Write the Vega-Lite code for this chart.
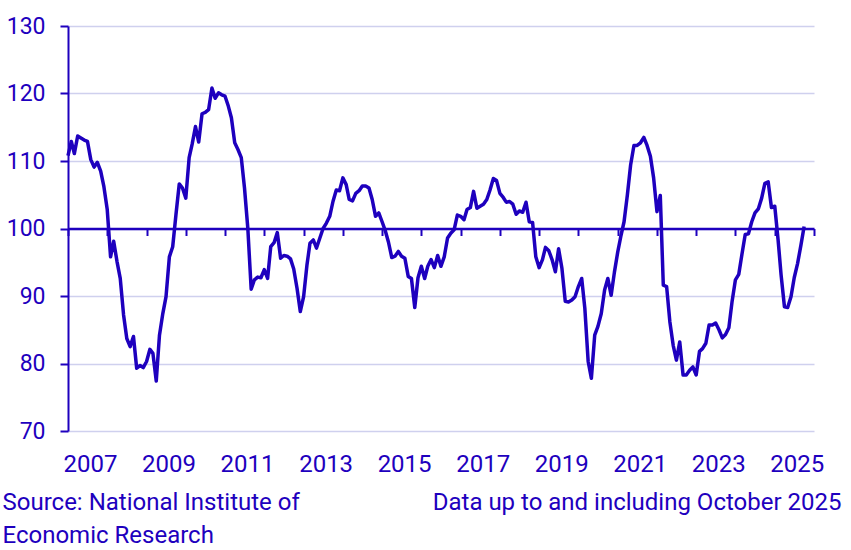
{
  "$schema": "https://vega.github.io/schema/vega-lite/v6.json",
  "width": 746,
  "height": 405,
  "autosize": {"type": "none"},
  "padding": {"left": 68, "top": 26, "right": 37, "bottom": 119},
  "background": "white",
  "config": {"view": {"stroke": null}, "font": "Roboto"},
  "data": {"values": [
    {"month":"2007-01","index":110.8},{"month":"2007-02","index":112.9},{"month":"2007-03","index":111.1},{"month":"2007-04","index":113.7},{"month":"2007-05","index":113.4},{"month":"2007-06","index":113.1},{"month":"2007-07","index":112.9},{"month":"2007-08","index":110.2},{"month":"2007-09","index":109.1},{"month":"2007-10","index":109.8},{"month":"2007-11","index":108.5},{"month":"2007-12","index":106.2},
    {"month":"2008-01","index":102.8},{"month":"2008-02","index":95.8},{"month":"2008-03","index":98.1},{"month":"2008-04","index":95.1},{"month":"2008-05","index":92.6},{"month":"2008-06","index":87.2},{"month":"2008-07","index":83.7},{"month":"2008-08","index":82.5},{"month":"2008-09","index":84.0},{"month":"2008-10","index":79.3},{"month":"2008-11","index":79.7},{"month":"2008-12","index":79.4},
    {"month":"2009-01","index":80.3},{"month":"2009-02","index":82.1},{"month":"2009-03","index":81.5},{"month":"2009-04","index":77.4},{"month":"2009-05","index":84.2},{"month":"2009-06","index":87.4},{"month":"2009-07","index":89.9},{"month":"2009-08","index":95.8},{"month":"2009-09","index":97.3},{"month":"2009-10","index":102.0},{"month":"2009-11","index":106.6},{"month":"2009-12","index":106.0},
    {"month":"2010-01","index":104.5},{"month":"2010-02","index":110.5},{"month":"2010-03","index":112.5},{"month":"2010-04","index":115.1},{"month":"2010-05","index":112.8},{"month":"2010-06","index":117.0},{"month":"2010-07","index":117.2},{"month":"2010-08","index":117.6},{"month":"2010-09","index":120.8},{"month":"2010-10","index":119.3},{"month":"2010-11","index":120.1},{"month":"2010-12","index":119.8},
    {"month":"2011-01","index":119.6},{"month":"2011-02","index":118.1},{"month":"2011-03","index":116.4},{"month":"2011-04","index":112.7},{"month":"2011-05","index":111.7},{"month":"2011-06","index":110.5},{"month":"2011-07","index":106.0},{"month":"2011-08","index":100.0},{"month":"2011-09","index":91.0},{"month":"2011-10","index":92.4},{"month":"2011-11","index":92.8},{"month":"2011-12","index":92.7},
    {"month":"2012-01","index":93.9},{"month":"2012-02","index":92.6},{"month":"2012-03","index":97.3},{"month":"2012-04","index":97.9},{"month":"2012-05","index":99.4},{"month":"2012-06","index":95.6},{"month":"2012-07","index":96.0},{"month":"2012-08","index":95.9},{"month":"2012-09","index":95.5},{"month":"2012-10","index":94.0},{"month":"2012-11","index":91.1},{"month":"2012-12","index":87.7},
    {"month":"2013-01","index":89.9},{"month":"2013-02","index":94.6},{"month":"2013-03","index":97.8},{"month":"2013-04","index":98.3},{"month":"2013-05","index":97.1},{"month":"2013-06","index":98.6},{"month":"2013-07","index":100.0},{"month":"2013-08","index":100.8},{"month":"2013-09","index":101.8},{"month":"2013-10","index":104.0},{"month":"2013-11","index":105.7},{"month":"2013-12","index":105.6},
    {"month":"2014-01","index":107.5},{"month":"2014-02","index":106.5},{"month":"2014-03","index":104.3},{"month":"2014-04","index":104.1},{"month":"2014-05","index":105.2},{"month":"2014-06","index":105.6},{"month":"2014-07","index":106.3},{"month":"2014-08","index":106.3},{"month":"2014-09","index":106.0},{"month":"2014-10","index":104.3},{"month":"2014-11","index":101.8},{"month":"2014-12","index":102.3},
    {"month":"2015-01","index":101.0},{"month":"2015-02","index":99.6},{"month":"2015-03","index":98.0},{"month":"2015-04","index":95.7},{"month":"2015-05","index":95.9},{"month":"2015-06","index":96.6},{"month":"2015-07","index":95.9},{"month":"2015-08","index":95.6},{"month":"2015-09","index":92.9},{"month":"2015-10","index":92.6},{"month":"2015-11","index":88.3},{"month":"2015-12","index":92.7},
    {"month":"2016-01","index":94.4},{"month":"2016-02","index":92.6},{"month":"2016-03","index":94.4},{"month":"2016-04","index":95.4},{"month":"2016-05","index":94.2},{"month":"2016-06","index":96.0},{"month":"2016-07","index":94.4},{"month":"2016-08","index":95.8},{"month":"2016-09","index":98.6},{"month":"2016-10","index":99.3},{"month":"2016-11","index":99.8},{"month":"2016-12","index":102.0},
    {"month":"2017-01","index":101.8},{"month":"2017-02","index":101.3},{"month":"2017-03","index":102.8},{"month":"2017-04","index":103.1},{"month":"2017-05","index":105.5},{"month":"2017-06","index":103.0},{"month":"2017-07","index":103.3},{"month":"2017-08","index":103.6},{"month":"2017-09","index":104.3},{"month":"2017-10","index":105.7},{"month":"2017-11","index":107.4},{"month":"2017-12","index":107.1},
    {"month":"2018-01","index":105.2},{"month":"2018-02","index":104.6},{"month":"2018-03","index":103.9},{"month":"2018-04","index":104.0},{"month":"2018-05","index":103.6},{"month":"2018-06","index":102.1},{"month":"2018-07","index":102.6},{"month":"2018-08","index":102.4},{"month":"2018-09","index":103.9},{"month":"2018-10","index":101.0},{"month":"2018-11","index":100.9},{"month":"2018-12","index":95.8},
    {"month":"2019-01","index":94.2},{"month":"2019-02","index":95.4},{"month":"2019-03","index":97.2},{"month":"2019-04","index":96.7},{"month":"2019-05","index":95.4},{"month":"2019-06","index":93.6},{"month":"2019-07","index":97.0},{"month":"2019-08","index":94.1},{"month":"2019-09","index":89.2},{"month":"2019-10","index":89.1},{"month":"2019-11","index":89.4},{"month":"2019-12","index":89.9},
    {"month":"2020-01","index":91.4},{"month":"2020-02","index":92.6},{"month":"2020-03","index":88.2},{"month":"2020-04","index":80.3},{"month":"2020-05","index":77.8},{"month":"2020-06","index":84.2},{"month":"2020-07","index":85.5},{"month":"2020-08","index":87.4},{"month":"2020-09","index":90.9},{"month":"2020-10","index":92.6},{"month":"2020-11","index":90.1},{"month":"2020-12","index":93.5},
    {"month":"2021-01","index":96.5},{"month":"2021-02","index":99.0},{"month":"2021-03","index":101.0},{"month":"2021-04","index":105.0},{"month":"2021-05","index":109.4},{"month":"2021-06","index":112.3},{"month":"2021-07","index":112.3},{"month":"2021-08","index":112.7},{"month":"2021-09","index":113.5},{"month":"2021-10","index":112.3},{"month":"2021-11","index":110.7},{"month":"2021-12","index":107.5},
    {"month":"2022-01","index":102.5},{"month":"2022-02","index":104.9},{"month":"2022-03","index":91.6},{"month":"2022-04","index":91.4},{"month":"2022-05","index":86.2},{"month":"2022-06","index":82.7},{"month":"2022-07","index":80.5},{"month":"2022-08","index":83.2},{"month":"2022-09","index":78.3},{"month":"2022-10","index":78.3},{"month":"2022-11","index":79.0},{"month":"2022-12","index":79.5},
    {"month":"2023-01","index":78.3},{"month":"2023-02","index":81.8},{"month":"2023-03","index":82.2},{"month":"2023-04","index":83.0},{"month":"2023-05","index":85.7},{"month":"2023-06","index":85.7},{"month":"2023-07","index":86.0},{"month":"2023-08","index":85.0},{"month":"2023-09","index":83.8},{"month":"2023-10","index":84.3},{"month":"2023-11","index":85.3},{"month":"2023-12","index":89.2},
    {"month":"2024-01","index":92.4},{"month":"2024-02","index":93.2},{"month":"2024-03","index":96.1},{"month":"2024-04","index":99.1},{"month":"2024-05","index":99.2},{"month":"2024-06","index":101.0},{"month":"2024-07","index":102.3},{"month":"2024-08","index":102.9},{"month":"2024-09","index":104.5},{"month":"2024-10","index":106.7},{"month":"2024-11","index":106.9},{"month":"2024-12","index":103.1},
    {"month":"2025-01","index":103.3},{"month":"2025-02","index":98.3},{"month":"2025-03","index":93.1},{"month":"2025-04","index":88.4},{"month":"2025-05","index":88.3},{"month":"2025-06","index":89.9},{"month":"2025-07","index":92.7},{"month":"2025-08","index":94.8},{"month":"2025-09","index":97.5},{"month":"2025-10","index":100.3}
  ]},
  "mark": {"type": "line", "color": "#1e00be", "strokeWidth": 3.5, "strokeJoin": "round"},
  "encoding": {
    "x": {
      "field": "month",
      "type": "temporal",
      "scale": {
        "type": "utc",
        "domain": [{"year": 2007, "month": 1, "date": 1, "utc": true}, {"year": 2026, "month": 1, "date": 1, "utc": true}],
        "nice": false
      },
      "axis": {
        "orient": "bottom",
        "offset": -202.5,
        "values": [
          {"year": 2007, "utc": true},{"year": 2008, "utc": true},{"year": 2009, "utc": true},{"year": 2010, "utc": true},{"year": 2011, "utc": true},
          {"year": 2012, "utc": true},{"year": 2013, "utc": true},{"year": 2014, "utc": true},{"year": 2015, "utc": true},{"year": 2016, "utc": true},
          {"year": 2017, "utc": true},{"year": 2018, "utc": true},{"year": 2019, "utc": true},{"year": 2020, "utc": true},{"year": 2021, "utc": true},
          {"year": 2022, "utc": true},{"year": 2023, "utc": true},{"year": 2024, "utc": true},{"year": 2025, "utc": true},{"year": 2026, "utc": true}
        ],
        "grid": false,
        "domain": true,
        "domainColor": "#1e00be",
        "domainWidth": 2.5,
        "ticks": true,
        "tickColor": "#1e00be",
        "tickSize": 7,
        "tickWidth": 2,
        "labelExpr": "utcyear(datum.value) % 2 == 1 ? utcFormat(datum.value, '%Y') : ''",
        "labelOffset": 22,
        "labelPadding": 217,
        "labelFont": "Roboto",
        "labelFontSize": 24,
        "labelColor": "#1e00be",
        "labelFlush": false,
        "labelOverlap": false,
        "labelBound": false,
        "title": "Data up to and including October 2025",
        "titleFont": "Roboto",
        "titleFontSize": 24,
        "titleFontWeight": "normal",
        "titleColor": "#1e00be",
        "titleX": 773,
        "titleY": 281,
        "titleAlign": "right",
        "titleBaseline": "alphabetic",
        "titleAngle": 0
      }
    },
    "y": {
      "field": "index",
      "type": "quantitative",
      "scale": {"domain": [70, 130], "nice": false, "zero": false},
      "axis": {
        "values": [70, 80, 90, 100, 110, 120, 130],
        "grid": true,
        "gridColor": "#cfd0ee",
        "gridWidth": 1.6,
        "domain": true,
        "domainColor": "#1e00be",
        "domainWidth": 2,
        "ticks": true,
        "tickColor": "#1e00be",
        "tickSize": 8,
        "tickWidth": 2,
        "labelFont": "Roboto",
        "labelFontSize": 23,
        "labelColor": "#1e00be",
        "labelPadding": 15,
        "title": ["Source: National Institute of", "Economic Research"],
        "titleFont": "Roboto",
        "titleFontSize": 24,
        "titleFontWeight": "normal",
        "titleColor": "#1e00be",
        "titleAngle": 0,
        "titleAlign": "left",
        "titleBaseline": "alphabetic",
        "titleX": -66,
        "titleY": 483,
        "titleLineHeight": 33
      }
    }
  }
}
